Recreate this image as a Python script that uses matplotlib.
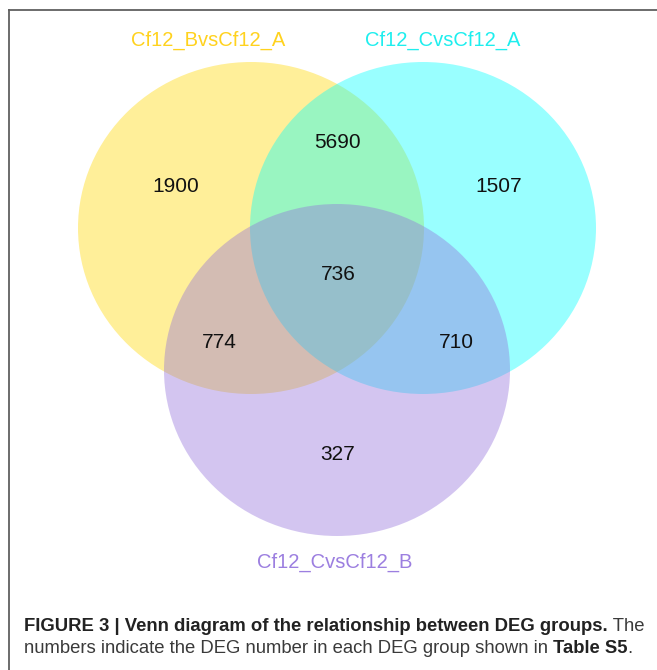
"""三组 DEG 的 Venn 图"""
from matplotlib import pyplot as plt
from matplotlib.patches import Ellipse
from matplotlib.lines import Line2D

plt.rcParams['font.family'] = ['Liberation Sans', 'DejaVu Sans']

# 组名与颜色
set_names = ["Cf12_BvsCf12_A", "Cf12_CvsCf12_A", "Cf12_CvsCf12_B"]
set_colors = ["#FFD700", "#00FFFF", "#9370DB"]
label_colors = ["#FFD21E", "#1EEEEE", "#9C7FE0"]

# 各区域的数目: 仅B, B&C, 仅C, 三者, B&D, C&D, 仅D
region_names = ["B_only", "BC", "C_only", "all", "BD", "CD", "D_only"]
region_counts = [1900, 5690, 1507, 736, 774, 710, 327]

fig = plt.figure(figsize=(6.57, 6.70), dpi=100)
ax = fig.add_axes([0, 0, 1, 1])
# 用像素坐标作图
ax.set_xlim(0, 657)
ax.set_ylim(670, 0)
ax.axis("off")

# 外框 (只看得到左边和上边)
fig.add_artist(Line2D([9 / 657, 9 / 657], [0, 1 - 9.5 / 670], color="#606060", lw=1.3))
fig.add_artist(Line2D([9 / 657, 1], [1 - 9.5 / 670, 1 - 9.5 / 670], color="#606060", lw=1.3))

# 三个圆 (图片略被压扁，所以用椭圆)
centers = [(251, 228), (423, 228), (337, 370)]
for (cx, cy), c in zip(centers, set_colors):
    ax.add_patch(Ellipse((cx, cy), 346, 332, facecolor=c, edgecolor="none", alpha=0.4))

# 组名
name_pos = [(208, 40), (443, 40), (335, 562)]
for (x, y), name, c in zip(name_pos, set_names, label_colors):
    ax.text(x, y, name, color=c, fontsize=14.5, ha="center", va="center")

# 区域数目
count_pos = [(176, 186), (337, 143), (499, 186), (338, 275), (219, 342), (456, 342), (338, 455)]
for (x, y), n in zip(count_pos, region_counts):
    ax.text(x, y, str(n), fontsize=15, color="#111111", ha="center", va="center")

# 图注: 粗体与常规混排，按文字宽度接着放
renderer = fig.canvas.get_renderer()


def caption_line(parts, x, y):
    for txt, bold in parts:
        t = ax.text(x, y, txt, fontsize=13.3,
                    fontweight="bold" if bold else "normal",
                    color="#222222" if bold else "#3a3a3a", va="baseline", ha="left")
        bb = t.get_window_extent(renderer=renderer)
        x += bb.width * 657 / fig.bbox.width


caption_line([("FIGURE 3 | Venn diagram of the relationship between DEG groups.", True),
              (" The", False)], 24, 631)
caption_line([("numbers indicate the DEG number in each DEG group shown in ", False),
              ("Table S5", True), (".", False)], 24, 653)

fig.savefig("out.png", dpi=100, facecolor="white")
